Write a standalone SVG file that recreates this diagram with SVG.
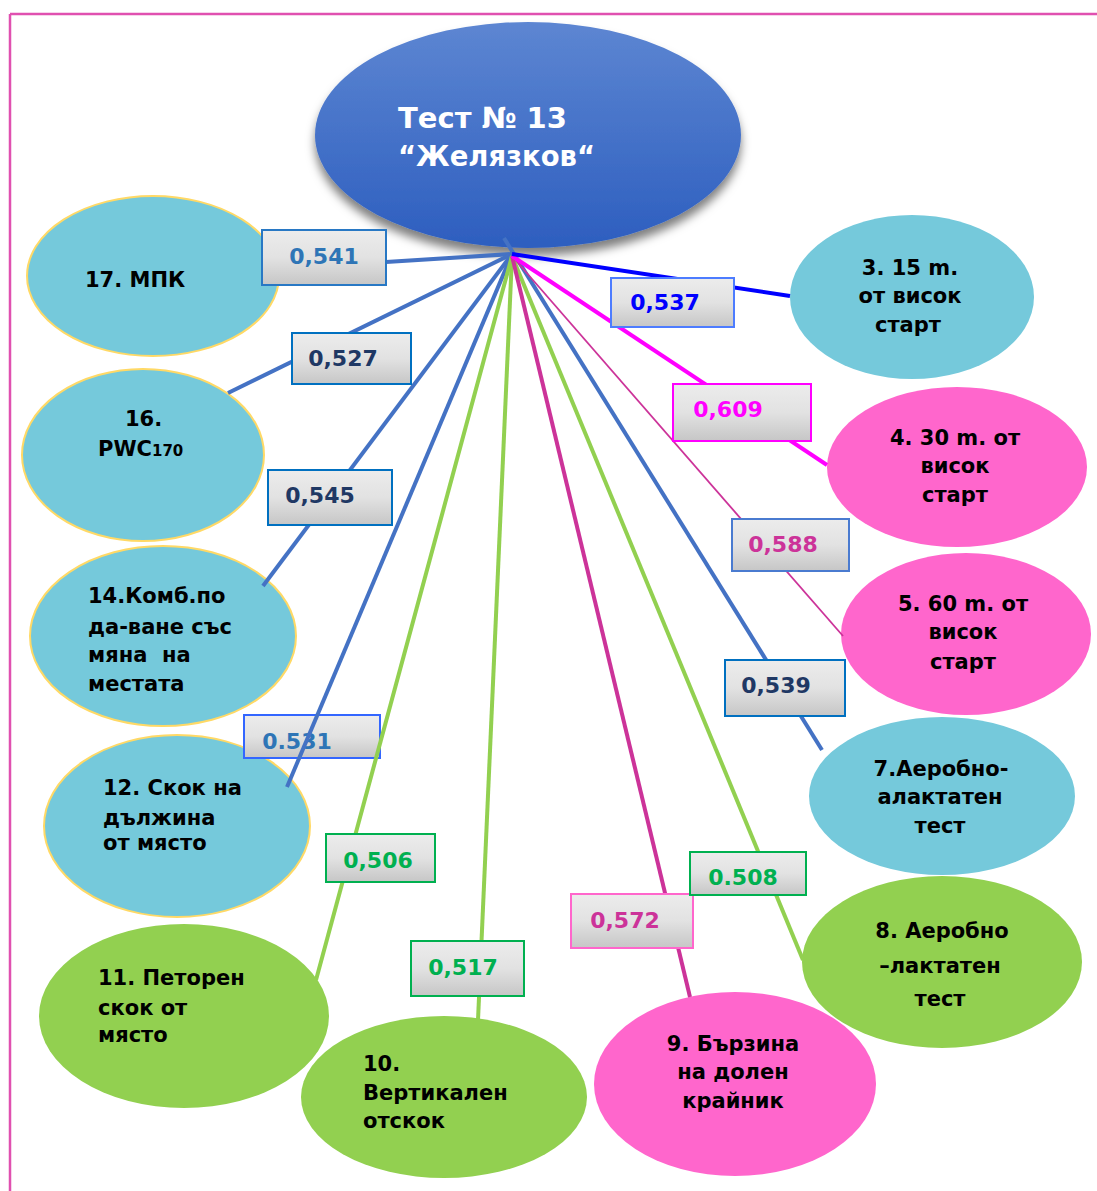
<svg xmlns="http://www.w3.org/2000/svg" width="1097" height="1191" viewBox="0 0 1097 1191">
<defs>
<linearGradient id="hubGrad" x1="0" y1="0" x2="0" y2="1">
<stop offset="0" stop-color="#5d86d2"/>
<stop offset="1" stop-color="#2d5ebf"/>
</linearGradient>
<linearGradient id="boxGrad" x1="0" y1="0" x2="0" y2="1">
<stop offset="0" stop-color="#ececec"/>
<stop offset="0.5" stop-color="#e2e2e2"/>
<stop offset="1" stop-color="#c6c6c6"/>
</linearGradient>
<filter id="shadow" x="-20%" y="-20%" width="140%" height="150%">
<feDropShadow dx="0" dy="8" stdDeviation="5" flood-color="#000" flood-opacity="0.5"/>
</filter>
</defs>
<style>
.nt{font-family:"DejaVu Sans",Verdana,sans-serif;font-weight:bold;font-size:21px;fill:#000}
.lb{font-family:"DejaVu Sans",Verdana,sans-serif;font-weight:bold;font-size:22px}
.hub{font-family:"DejaVu Sans",Verdana,sans-serif;font-weight:bold;font-size:29px;fill:#fff}
.blueN{fill:#75c9db}
.blueY{fill:#75c9db;stroke:#ffd966;stroke-width:2}
.pink{fill:#ff66cc}
.green{fill:#92d050}
.box{fill:url(#boxGrad);stroke-width:2}
.ln{fill:none;stroke-width:4;stroke-linecap:butt}
.thin{stroke-width:1.8}
</style>
<rect width="1097" height="1191" fill="#fff"/>
<g id="frame" stroke="#e050b0" stroke-width="2.5" fill="none">
<line x1="10" y1="14" x2="1097" y2="14"/>
<line x1="10" y1="14" x2="10" y2="1191"/>
</g>

<g id="node-hub">
<ellipse cx="528" cy="135" rx="213" ry="113" fill="url(#hubGrad)" filter="url(#shadow)"/>
<text class="hub" x="398" y="128">Тест № 13</text>
<text class="hub" x="398" y="166" textLength="197" lengthAdjust="spacingAndGlyphs">“Желязков“</text>
</g>

<g id="node-17">
<ellipse class="blueY" cx="153" cy="276" rx="126" ry="80"/>
<text class="nt" x="85" y="287">17. МПК</text>
</g>
<g id="node-16">
<ellipse class="blueY" cx="143" cy="455" rx="121" ry="86"/>
<text class="nt" x="125" y="426">16.</text>
<text class="nt" x="98" y="456">PWC<tspan font-size="15">170</tspan></text>
</g>
<g id="node-14">
<ellipse class="blueY" cx="163" cy="636" rx="133" ry="90"/>
<text class="nt" x="88" y="603">14.Комб.по</text>
<text class="nt" x="88" y="634">да-ване със</text>
<text class="nt" x="88" y="662" xml:space="preserve">мяна  на</text>
<text class="nt" x="88" y="691">местата</text>
</g>
<g id="node-12">
<ellipse class="blueY" cx="177" cy="826" rx="133" ry="91"/>
<text class="nt" x="103" y="795">12. Скок на</text>
<text class="nt" x="103" y="825">дължина</text>
<text class="nt" x="103" y="850">от място</text>
</g>
<g id="node-11">
<ellipse class="green" cx="184" cy="1016" rx="145" ry="92"/>
<text class="nt" x="98" y="985">11. Петорен</text>
<text class="nt" x="98" y="1015">скок от</text>
<text class="nt" x="98" y="1042">място</text>
</g>
<g id="node-10">
<ellipse class="green" cx="444" cy="1097" rx="143" ry="81"/>
<text class="nt" x="363" y="1071">10.</text>
<text class="nt" x="363" y="1100">Вертикален</text>
<text class="nt" x="363" y="1128">отскок</text>
</g>
<g id="node-9">
<ellipse class="pink" cx="735" cy="1084" rx="141" ry="92"/>
<text class="nt" x="733" y="1051" text-anchor="middle">9. Бързина</text>
<text class="nt" x="733" y="1079" text-anchor="middle">на долен</text>
<text class="nt" x="733" y="1108" text-anchor="middle">крайник</text>
</g>
<g id="node-8">
<ellipse class="green" cx="942" cy="962" rx="140" ry="86"/>
<text class="nt" x="942" y="938" text-anchor="middle">8. Аеробно</text>
<text class="nt" x="940" y="973" text-anchor="middle">–лактатен</text>
<text class="nt" x="940" y="1006" text-anchor="middle">тест</text>
</g>
<g id="node-7">
<ellipse class="blueN" cx="942" cy="796" rx="133" ry="79"/>
<text class="nt" x="941" y="776" text-anchor="middle">7.Аеробно-</text>
<text class="nt" x="940" y="804" text-anchor="middle">алактатен</text>
<text class="nt" x="940" y="833" text-anchor="middle">тест</text>
</g>
<g id="node-5">
<ellipse class="pink" cx="966" cy="634" rx="125" ry="81"/>
<text class="nt" x="963" y="611" text-anchor="middle">5. 60 m. от</text>
<text class="nt" x="963" y="639" text-anchor="middle">висок</text>
<text class="nt" x="963" y="669" text-anchor="middle">старт</text>
</g>
<g id="node-4">
<ellipse class="pink" cx="957" cy="467" rx="130" ry="80"/>
<text class="nt" x="955" y="445" text-anchor="middle">4. 30 m. от</text>
<text class="nt" x="955" y="473" text-anchor="middle">висок</text>
<text class="nt" x="955" y="502" text-anchor="middle">старт</text>
</g>
<g id="node-3">
<ellipse class="blueN" cx="912" cy="297" rx="122" ry="82"/>
<text class="nt" x="910" y="275" text-anchor="middle">3. 15 m.</text>
<text class="nt" x="910" y="303" text-anchor="middle">от висок</text>
<text class="nt" x="908" y="332" text-anchor="middle">старт</text>
</g>

<g id="label-0531">
<rect class="box" x="244" y="715" width="136" height="43" stroke="#3366ff"/>
<text class="lb" x="297" y="749" fill="#2e75b6" text-anchor="middle">0.531</text>
</g>

<g id="connectors">
<line class="ln" x1="512" y1="254" x2="386" y2="262" stroke="#4472c4"/>
<line class="ln" x1="512" y1="254" x2="228" y2="393" stroke="#4472c4"/>
<line class="ln" x1="512" y1="254" x2="263" y2="586" stroke="#4472c4"/>
<line class="ln" x1="512" y1="254" x2="287" y2="787" stroke="#4472c4"/>
<line class="ln" x1="512" y1="256" x2="316" y2="980" stroke="#92d050"/>
<line class="ln" x1="512" y1="256" x2="478" y2="1020" stroke="#92d050"/>
<line class="ln" x1="512" y1="256" x2="803" y2="960" stroke="#92d050"/>
<line class="ln" x1="512" y1="256" x2="690" y2="997" stroke="#cc3399"/>
<line class="ln" x1="504" y1="238" x2="822" y2="750" stroke="#4472c4"/>
<line class="ln thin" x1="512" y1="256" x2="843" y2="636" stroke="#cc3399"/>
<line class="ln" x1="512" y1="256" x2="827" y2="465" stroke="#ff00ff"/>
<line class="ln" x1="512" y1="254" x2="790" y2="296" stroke="#0000ff"/>
</g>

<g id="edge-labels">
<g id="label-0541">
<rect class="box" x="262" y="230" width="124" height="55" stroke="#2878c4"/>
<text class="lb" x="324" y="264" fill="#2e75b6" text-anchor="middle">0,541</text>
</g>
<g id="label-0527">
<rect class="box" x="292" y="333" width="119" height="51" stroke="#0070c0"/>
<text class="lb" x="343" y="366" fill="#1f3864" text-anchor="middle">0,527</text>
</g>
<g id="label-0545">
<rect class="box" x="268" y="470" width="124" height="55" stroke="#0070c0"/>
<text class="lb" x="320" y="503" fill="#1f3864" text-anchor="middle">0,545</text>
</g>
<g id="label-0506">
<rect class="box" x="326" y="834" width="109" height="48" stroke="#00b050"/>
<text class="lb" x="378" y="868" fill="#00b050" text-anchor="middle">0,506</text>
</g>
<g id="label-0517">
<rect class="box" x="411" y="941" width="113" height="55" stroke="#00b050"/>
<text class="lb" x="463" y="975" fill="#00b050" text-anchor="middle">0,517</text>
</g>
<g id="label-0572">
<rect class="box" x="571" y="894" width="122" height="54" stroke="#ff66cc"/>
<text class="lb" x="625" y="928" fill="#cc3399" text-anchor="middle">0,572</text>
</g>
<g id="label-0508">
<rect class="box" x="690" y="852" width="116" height="43" stroke="#00b050"/>
<text class="lb" x="743" y="885" fill="#00b050" text-anchor="middle">0.508</text>
</g>
<g id="label-0539">
<rect class="box" x="725" y="660" width="120" height="56" stroke="#0070c0"/>
<text class="lb" x="776" y="693" fill="#1f3864" text-anchor="middle">0,539</text>
</g>
<g id="label-0588">
<rect class="box" x="732" y="519" width="117" height="52" stroke="#4a7bd0"/>
<text class="lb" x="783" y="552" fill="#cc3399" text-anchor="middle">0,588</text>
</g>
<g id="label-0609">
<rect class="box" x="673" y="384" width="138" height="57" stroke="#ff00ff"/>
<text class="lb" x="728" y="417" fill="#ff00ff" text-anchor="middle">0,609</text>
</g>
<g id="label-0537">
<rect class="box" x="611" y="278" width="123" height="49" stroke="#4d7cff"/>
<text class="lb" x="665" y="310" fill="#0000ff" text-anchor="middle">0,537</text>
</g>
</g>
</svg>
